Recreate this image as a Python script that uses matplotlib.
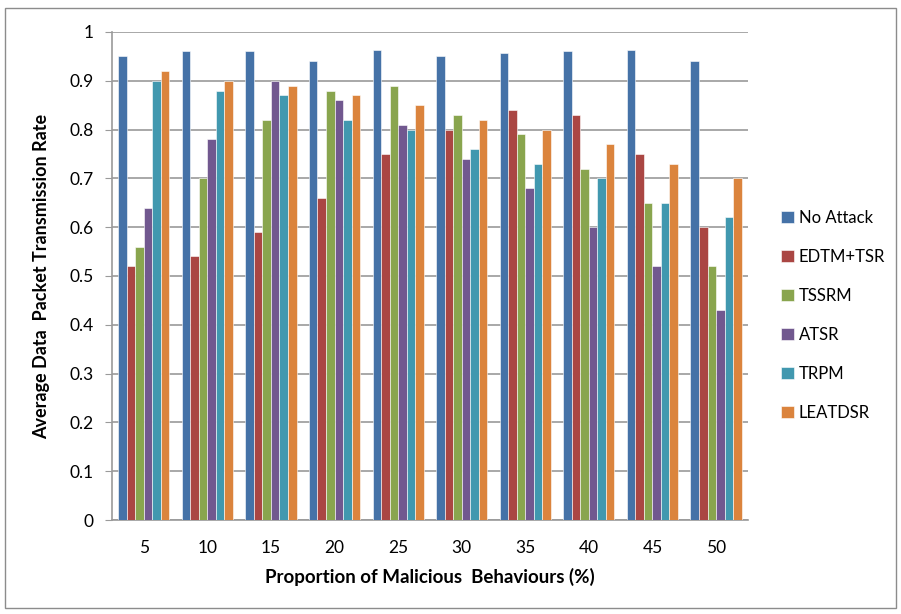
import matplotlib
matplotlib.use("Agg")
import matplotlib.pyplot as plt
import numpy as np
from matplotlib.patches import Rectangle

categories = ["5", "10", "15", "20", "25", "30", "35", "40", "45", "50"]
no_attack = [0.95, 0.96, 0.96, 0.94, 0.963, 0.95, 0.957, 0.96, 0.963, 0.94]
edtm_tsr  = [0.52, 0.54, 0.59, 0.66, 0.75, 0.80, 0.84, 0.83, 0.75, 0.60]
tssrm     = [0.56, 0.70, 0.82, 0.88, 0.89, 0.83, 0.79, 0.72, 0.65, 0.52]
atsr      = [0.64, 0.78, 0.90, 0.86, 0.81, 0.74, 0.68, 0.60, 0.52, 0.43]
trpm      = [0.90, 0.88, 0.87, 0.82, 0.80, 0.76, 0.73, 0.70, 0.65, 0.62]
leatdsr   = [0.92, 0.90, 0.89, 0.87, 0.85, 0.82, 0.80, 0.77, 0.73, 0.70]

series = [("No Attack", no_attack), ("EDTM+TSR", edtm_tsr), ("TSSRM", tssrm),
          ("ATSR", atsr), ("TRPM", trpm), ("LEATDSR", leatdsr)]
colors = ["#4572A7", "#AA4643", "#89A54E", "#71588F", "#4198AF", "#DB843D"]

plt.rcParams['font.family'] = ['Lato', 'DejaVu Sans']

fig = plt.figure(figsize=(9.01, 6.14), dpi=100)
ax = fig.add_axes([0.1243, 0.153, 0.7057, 0.795])

x = np.arange(len(categories))
n = len(series)
bw = 0.134
for i, ((name, vals), c) in enumerate(zip(series, colors)):
    ax.bar(x + (i - (n - 1) / 2) * bw, vals, width=bw, color=c, label=name,
           edgecolor='white', linewidth=0.4, zorder=3)

ax.set_xlim(-0.5, len(categories) - 0.5)
ax.set_ylim(0, 1)
ax.set_yticks(np.arange(0, 1.01, 0.1))
ax.set_yticklabels(["0", "0.1", "0.2", "0.3", "0.4", "0.5", "0.6", "0.7", "0.8", "0.9", "1"])
ax.set_xticks(x)
ax.set_xticklabels(categories)
ax.yaxis.grid(True, color='#9a9a9a', linewidth=1.2, zorder=0)
ax.set_axisbelow(True)
for s in ['top', 'right']:
    ax.spines[s].set_visible(False)
ax.spines['left'].set_color('#9a9a9a')
ax.spines['bottom'].set_color('#9a9a9a')
ax.spines['left'].set_linewidth(1.2)
ax.spines['bottom'].set_linewidth(1.2)
ax.tick_params(axis='y', length=5, color='#9a9a9a', labelsize=12.5, pad=8)
ax.tick_params(axis='x', length=0, labelsize=12.5, pad=14)

ax.set_ylabel("Average Data  Packet Transmission Rate", fontsize=13, fontweight='bold', labelpad=14)
ax.set_xlabel("Proportion of Malicious  Behaviours (%)", fontsize=13.5, fontweight='bold', labelpad=9)

leg = ax.legend(loc='center left', bbox_to_anchor=(1.042, 0.42), frameon=False,
                fontsize=12, handlelength=0.75, handleheight=0.75, labelspacing=1.38,
                handletextpad=0.3, borderaxespad=0)

fig.patches.append(Rectangle((0.006, 0.01), 0.988, 0.977, transform=fig.transFigure,
                             fill=False, edgecolor='#8c8c8c', linewidth=1.0))

fig.savefig("out.png", dpi=100)
